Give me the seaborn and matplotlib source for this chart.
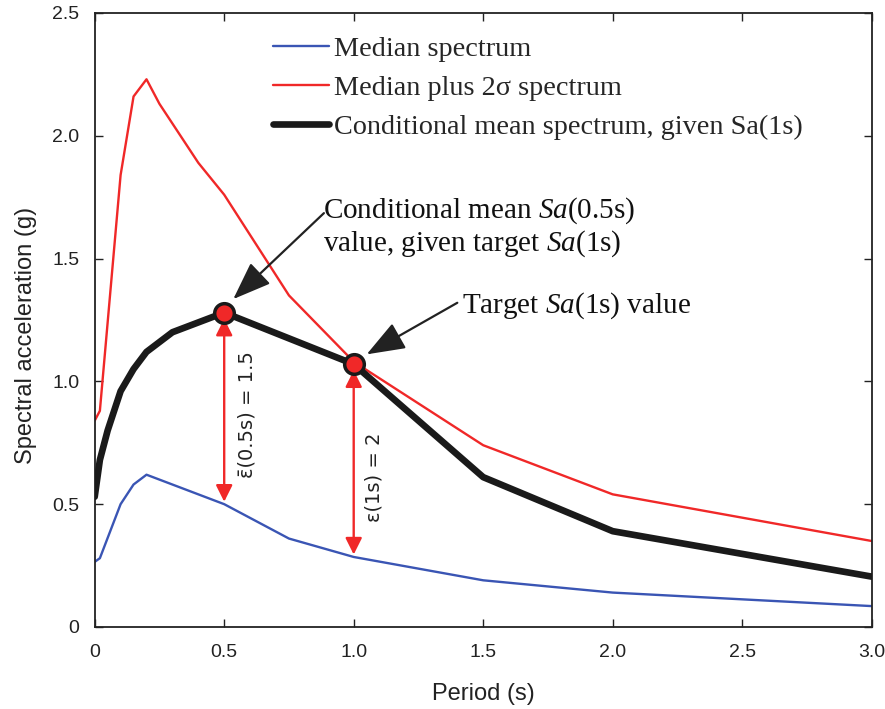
import matplotlib
matplotlib.use("Agg")
import matplotlib.pyplot as plt
import seaborn as sns
import numpy as np
import pandas as pd

# ---- data ----
period_med = [0.0, 0.02, 0.1, 0.15, 0.2, 0.5, 0.75, 1.0, 1.5, 2.0, 3.0]
sa_median = [0.265, 0.28, 0.50, 0.58, 0.62, 0.50, 0.36, 0.285, 0.19, 0.14, 0.085]

period_red = [0.0, 0.02, 0.1, 0.15, 0.2, 0.25, 0.4, 0.5, 0.75, 1.0, 1.5, 2.0, 3.0]
sa_plus2 = [0.84, 0.88, 1.84, 2.16, 2.23, 2.13, 1.89, 1.76, 1.35, 1.08, 0.74, 0.54, 0.35]

period_cms = [0.0, 0.02, 0.05, 0.1, 0.15, 0.2, 0.3, 0.5, 1.0, 1.5, 2.0, 3.0]
sa_cms = [0.53, 0.68, 0.80, 0.96, 1.05, 1.12, 1.20, 1.28, 1.07, 0.61, 0.39, 0.205]

key_periods = [0.5, 1.0]
key_sa_cms = [1.28, 1.07]
key_sa_median = [0.50, 0.285]

legend_labels = ["Median spectrum", "Median plus 2\u03c3 spectrum",
                 "Conditional mean spectrum, given Sa(1s)"]
x_ticks = [0, 0.5, 1.0, 1.5, 2.0, 2.5, 3.0]
x_ticklabels = ["0", "0.5", "1.0", "1.5", "2.0", "2.5", "3.0"]
y_ticks = [0, 0.5, 1.0, 1.5, 2.0, 2.5]
y_ticklabels = ["0", "0.5", "1.0", "1.5", "2.0", "2.5"]

sns.set_theme(style="ticks")
plt.rcParams['font.family'] = ['Liberation Sans', 'DejaVu Sans']
plt.rcParams['mathtext.fontset'] = 'custom'
plt.rcParams['mathtext.rm'] = 'Liberation Serif'
plt.rcParams['mathtext.it'] = 'Liberation Serif:italic'

fig = plt.figure(figsize=(8.85, 7.09), dpi=100)
ax = fig.add_axes([0.107, 0.1157, 0.878, 0.866])

df_med = pd.DataFrame({"T": period_med, "Sa": sa_median})
df_red = pd.DataFrame({"T": period_red, "Sa": sa_plus2})
df_cms = pd.DataFrame({"T": period_cms, "Sa": sa_cms})

sns.lineplot(data=df_med, x="T", y="Sa", ax=ax, color="#3a55b4", lw=1.7,
             label=legend_labels[0], sort=False)
sns.lineplot(data=df_red, x="T", y="Sa", ax=ax, color="#f02828", lw=1.7,
             label=legend_labels[1], sort=False)
sns.lineplot(data=df_cms, x="T", y="Sa", ax=ax, color="#1a1a1a", lw=4.8,
             label=legend_labels[2], sort=False, zorder=3)

# double arrows (epsilon)
for t, top, bot in zip(key_periods, key_sa_cms, key_sa_median):
    ax.annotate("", xy=(t, bot + 0.01), xytext=(t, top - 0.025),
                arrowprops=dict(arrowstyle="<|-|>,head_length=0.5,head_width=0.25",
                                color="#f02828", lw=1.7,
                                mutation_scale=20, shrinkA=0, shrinkB=0))

ax.scatter(key_periods, key_sa_cms, s=200, color="#f02828", edgecolor="#1a1a1a",
           linewidth=2.5, zorder=5)

ax.text(0.587, 0.865, "\u03b5\u0304(0.5s) = 1.5", rotation=90, ha="center",
        va="center", fontsize=14, color="#222222",
        family=['DejaVu Sans', 'Liberation Sans'])
ax.text(1.08, 0.61, "\u03b5(1s) = 2", rotation=90, ha="center",
        va="center", fontsize=14, color="#222222",
        family=['DejaVu Sans', 'Liberation Sans'])

ser = "Liberation Serif"
head = "-|>,head_length=0.85,head_width=0.32"
ax.text(0.88, 1.627, "Conditional mean $\\mathit{Sa}$(0.5s)\nvalue, given target $\\mathit{Sa}$(1s)",
        ha="left", va="center", fontsize=21, family=ser, color="#111111",
        linespacing=1.12)
ax.annotate("", xy=(0.535, 1.335), xytext=(0.885, 1.685),
            arrowprops=dict(arrowstyle=head, color="#222222", lw=1.6,
                            mutation_scale=28, shrinkA=0, shrinkB=0))
ax.text(1.42, 1.31, "Target $\\mathit{Sa}$(1s) value",
        ha="left", va="center", fontsize=21, family=ser, color="#111111")
ax.annotate("", xy=(1.05, 1.11), xytext=(1.40, 1.32),
            arrowprops=dict(arrowstyle=head, color="#222222", lw=1.6,
                            mutation_scale=28, shrinkA=0, shrinkB=0))

ax.set_xlim(0, 3.0)
ax.set_ylim(0, 2.5)
ax.set_xticks(x_ticks)
ax.set_xticklabels(x_ticklabels)
ax.set_yticks(y_ticks)
ax.set_yticklabels(y_ticklabels)
ax.tick_params(direction="in", top=True, right=True, labelsize=14, length=6,
               width=1.0, colors="#222222")
ax.tick_params(axis="x", pad=12)
ax.tick_params(axis="y", pad=11)
for s in ax.spines.values():
    s.set_visible(True)
    s.set_linewidth(1.3)
    s.set_color("#222222")
ax.set_xlabel("Period (s)", fontsize=17, labelpad=16, color="#222222")
ax.set_ylabel("Spectral acceleration (g)", fontsize=17, color="#222222")
ax.yaxis.set_label_coords(-0.074, 0.474)

leg = ax.legend(loc="upper left", bbox_to_anchor=(0.215, 0.98), frameon=False,
                prop={"family": ser, "size": 20.3}, handlelength=2.0,
                handletextpad=0.15, labelspacing=0.47, borderaxespad=0)

fig.savefig("out.png", dpi=100)
